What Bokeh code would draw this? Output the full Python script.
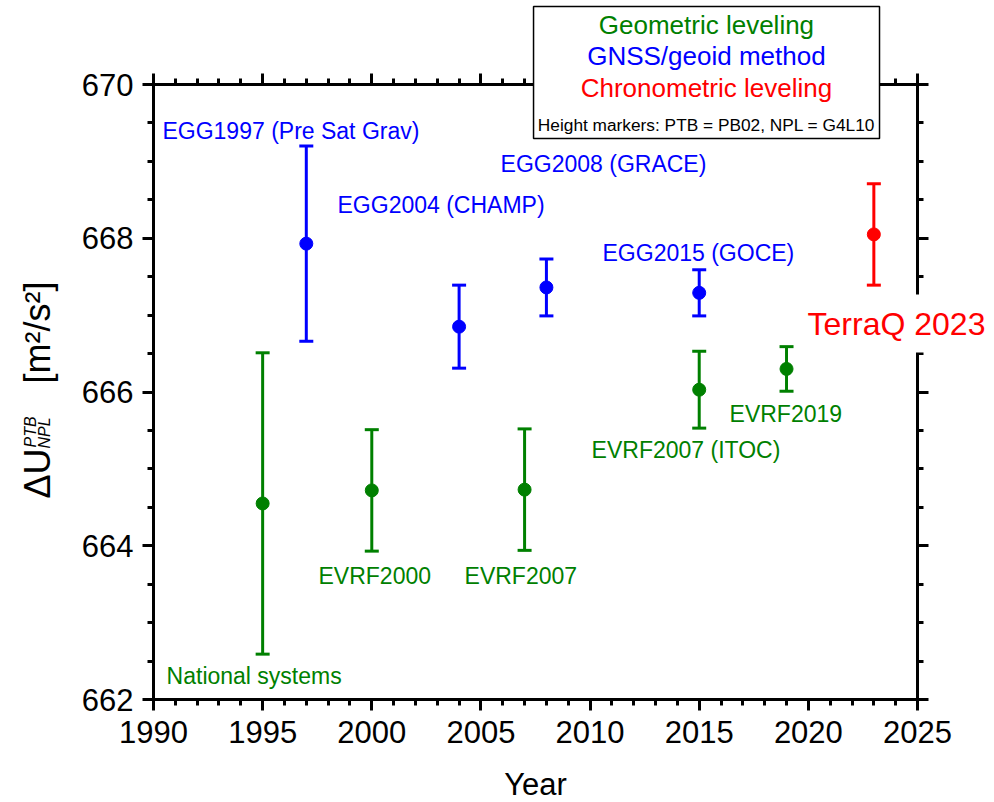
import math
from bokeh.plotting import figure
from bokeh.models import (Range1d, LinearAxis, FixedTicker, Whisker, TeeHead,
                          ColumnDataSource, Label, BoxAnnotation)
from bokeh.embed import file_html
from bokeh.resources import INLINE

# ---------------- data ----------------
geo_years = [1995, 2000, 2007, 2015, 2019]
geo_vals = [664.55, 664.72, 664.73, 666.03, 666.30]
geo_errs = [1.96, 0.79, 0.79, 0.50, 0.29]

gnss_years = [1997, 2004, 2008, 2015]
gnss_vals = [667.93, 666.85, 667.36, 667.29]
gnss_errs = [1.27, 0.54, 0.37, 0.30]

chrono_years = [2023]
chrono_vals = [668.05]
chrono_errs = [0.66]

x_major = [1990, 1995, 2000, 2005, 2010, 2015, 2020, 2025]
x_labels = ["1990", "1995", "2000", "2005", "2010", "2015", "2020", "2025"]
y_major = [662, 664, 666, 668, 670]
y_labels = ["662", "664", "666", "668", "670"]

GREEN = "#008000"
BLUE = "#0000ff"
RED = "#ff0000"
FONT = "Liberation Sans"

# frame covers the whole canvas; axes are pinned at the data limits
X0, X1 = 1990, 2025
Y0, Y1 = 662, 670
pxx = 764 / (X1 - X0)
pxy = 615 / (Y1 - Y0)
p = figure(frame_width=994, frame_height=802,
           x_range=Range1d(X0 - 153 / pxx, X1 + 77 / pxx),
           y_range=Range1d(Y0 - 103 / pxy, Y1 + 84 / pxy),
           min_border=0, min_border_left=0, min_border_right=0,
           min_border_top=0, min_border_bottom=0,
           output_backend="svg", toolbar_location=None)
p.grid.visible = False
p.outline_line_color = None
p.background_fill_color = "white"
p.border_fill_color = "white"

p.add_layout(LinearAxis(), "above")
p.add_layout(LinearAxis(), "right")

x_minor = list(range(1990, 2026))
y_minor = [662 + 0.5 * i for i in range(17)]
for ax in p.xaxis:
    ax.ticker = FixedTicker(ticks=x_major, minor_ticks=x_minor)
    ax.bounds = (X0, X1)
for ax in p.yaxis:
    ax.ticker = FixedTicker(ticks=y_major, minor_ticks=y_minor)
    ax.bounds = (Y0, Y1)

p.below[0].fixed_location = Y0
p.above[0].fixed_location = Y1
p.left[0].fixed_location = X0
p.right[0].fixed_location = X1

for ax in p.axis:
    ax.axis_line_width = 3
    ax.axis_line_color = "black"
    ax.axis_line_cap = "square"
    ax.major_tick_out = 11
    ax.major_tick_in = 0
    ax.minor_tick_out = 6
    ax.minor_tick_in = 0
    ax.major_tick_line_width = 3
    ax.minor_tick_line_width = 3
    ax.major_tick_line_color = "black"
    ax.minor_tick_line_color = "black"
    ax.major_label_text_font = FONT
    ax.major_label_text_font_size = "31px"
    ax.major_label_text_color = "black"

p.below[0].major_label_overrides = {t: s for t, s in zip(x_major, x_labels)}
p.below[0].major_label_standoff = 10
p.left[0].major_label_overrides = {t: s for t, s in zip(y_major, y_labels)}
p.left[0].major_label_standoff = 9
p.above[0].major_label_overrides = {t: "" for t in x_major}
p.right[0].major_label_overrides = {t: "" for t in y_major}


def add_series(years, vals, errs, color):
    src = ColumnDataSource(dict(
        x=years, y=vals,
        lo=[v - e for v, e in zip(vals, errs)],
        hi=[v + e for v, e in zip(vals, errs)]))
    w = Whisker(base="x", upper="hi", lower="lo", source=src,
                line_color=color, line_width=3,
                upper_head=TeeHead(size=14, line_color=color, line_width=3),
                lower_head=TeeHead(size=14, line_color=color, line_width=3))
    p.add_layout(w)
    p.scatter("x", "y", source=src, size=13, color=color)


add_series(geo_years, geo_vals, geo_errs, GREEN)
add_series(gnss_years, gnss_vals, gnss_errs, BLUE)
add_series(chrono_years, chrono_vals, chrono_errs, RED)

# ---------------- text annotations ----------------
def lab(text, x, y, color, size, align="left", **kw):
    p.add_layout(Label(x=x, y=y, text=text, text_color=color,
                       text_font=FONT, text_font_size=f"{size}px",
                       text_align=align, text_baseline="middle", **kw))

lab("EGG1997 (Pre Sat Grav)", 1990.41, 669.40, BLUE, 23)
lab("EGG2004 (CHAMP)", 1998.43, 668.43, BLUE, 23)
lab("EGG2008 (GRACE)", 2005.90, 668.96, BLUE, 23)
lab("EGG2015 (GOCE)", 2010.57, 667.81, BLUE, 23)
lab("EVRF2019", 2016.39, 665.72, GREEN, 23)
lab("EVRF2007 (ITOC)", 2010.07, 665.25, GREEN, 23)
lab("EVRF2000", 1997.56, 663.61, GREEN, 23)
lab("EVRF2007", 2004.25, 663.61, GREEN, 23)
lab("National systems", 1990.60, 662.31, GREEN, 23)
lab("TerraQ 2023", 2019.46, 666.89, RED, 32,
    background_fill_color="white", background_fill_alpha=1.0, padding=11)

# legend box
p.add_layout(BoxAnnotation(left=2007.41, right=2023.26, top=671.015, bottom=669.298,
                           fill_color="white", fill_alpha=1.0,
                           line_color="black", line_alpha=1.0, line_width=1.5))
lab("Geometric leveling", 2015.33, 670.78, GREEN, 26, align="center")
lab("GNSS/geoid method", 2015.33, 670.37, BLUE, 26, align="center")
lab("Chronometric leveling", 2015.33, 669.95, RED, 26, align="center")
lab("Height markers: PTB = PB02, NPL = G4L10", 2015.33, 669.47, "black", 17.3, align="center")

# axis titles
lab("Year", 2007.5, 660.90, "black", 31, align="center")
rot = math.pi / 2
lab("\u0394U", 1984.663, 664.615, "black", 36, angle=rot)
lab("PTB", 1984.365, 665.278, "black", 16, angle=rot, text_font_style="italic")
lab("NPL", 1984.984, 665.265, "black", 16, angle=rot, text_font_style="italic")
lab("[m\u00b2/s\u00b2]", 1984.67, 666.11, "black", 36, angle=rot)

open("out.html", "w").write(file_html(p, INLINE))
